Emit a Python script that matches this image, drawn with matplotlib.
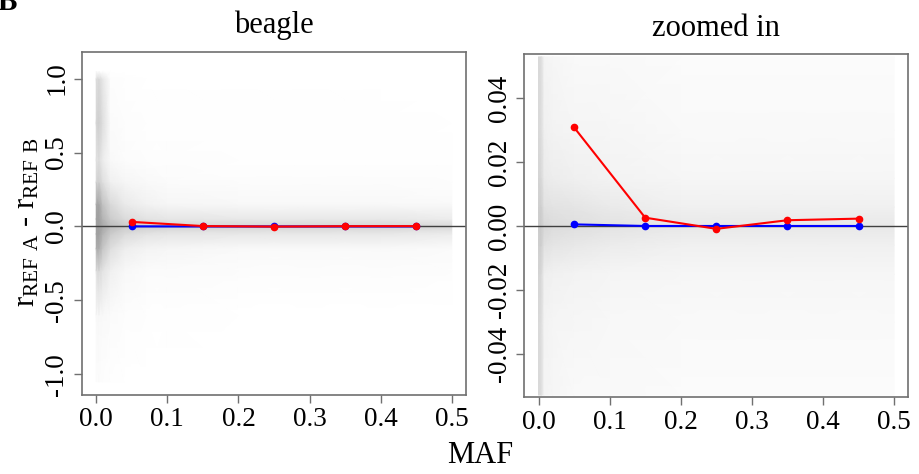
import matplotlib
matplotlib.use("Agg")
import matplotlib.pyplot as plt
import numpy as np
from matplotlib.colors import LinearSegmentedColormap

# dados: diferença média por classe de MAF
maf_bins = [0.05, 0.15, 0.25, 0.35, 0.45]
red_diff = [0.0309, 0.0026, -0.0009, 0.0018, 0.0023]
blue_diff = [0.0005, 0.0, 0.0, 0.0, 0.0]

# densidade da nuvem de pontos, painel "beagle"
left_x = [0.0, 0.004, 0.009, 0.02, 0.04, 0.07, 0.1, 0.2, 0.3, 0.4, 0.5]
left_y = [-1.05, -0.6, -0.3, -0.15, -0.05, 0.0, 0.05, 0.15, 0.3, 0.45, 0.7, 1.0, 1.05]
left_dens = [  # uma coluna por valor de left_x
    [0.03, 0.08, 0.35, 0.85, 1.00, 1.00, 1.00, 0.90, 0.45, 0.30, 0.45, 0.35, 0.0],
    [0.03, 0.08, 0.40, 0.85, 1.00, 1.00, 1.00, 0.95, 0.50, 0.35, 0.50, 0.40, 0.0],
    [0.02, 0.06, 0.30, 0.60, 0.80, 0.90, 0.80, 0.65, 0.35, 0.20, 0.35, 0.25, 0.0],
    [0.01, 0.04, 0.16, 0.35, 0.55, 0.70, 0.55, 0.40, 0.16, 0.06, 0.05, 0.02, 0.0],
    [0.00, 0.02, 0.08, 0.18, 0.38, 0.55, 0.38, 0.22, 0.09, 0.03, 0.02, 0.01, 0.0],
    [0.00, 0.01, 0.05, 0.12, 0.30, 0.50, 0.30, 0.14, 0.06, 0.02, 0.01, 0.005, 0.0],
    [0.00, 0.01, 0.04, 0.09, 0.26, 0.46, 0.26, 0.10, 0.04, 0.02, 0.01, 0.005, 0.0],
    [0.00, 0.005, 0.03, 0.07, 0.24, 0.44, 0.24, 0.08, 0.03, 0.015, 0.008, 0.004, 0.0],
    [0.00, 0.005, 0.03, 0.07, 0.24, 0.44, 0.24, 0.08, 0.03, 0.015, 0.008, 0.004, 0.0],
    [0.00, 0.005, 0.03, 0.07, 0.24, 0.44, 0.24, 0.08, 0.03, 0.015, 0.008, 0.004, 0.0],
    [0.00, 0.005, 0.02, 0.05, 0.20, 0.40, 0.20, 0.06, 0.02, 0.01, 0.005, 0.0, 0.0],
]

# densidade da nuvem, painel "zoomed in"
right_x = [0.0, 0.004, 0.008, 0.02, 0.05, 0.1, 0.2, 0.3, 0.4, 0.5]
right_y = [-0.053, -0.03, -0.015, -0.006, 0.0, 0.006, 0.015, 0.03, 0.053]
right_dens = [
    [0.40, 0.40, 0.45, 0.50, 0.55, 0.50, 0.45, 0.40, 0.40],
    [0.35, 0.35, 0.40, 0.50, 0.55, 0.50, 0.40, 0.35, 0.35],
    [0.12, 0.13, 0.17, 0.32, 0.42, 0.32, 0.22, 0.16, 0.12],
    [0.09, 0.11, 0.15, 0.27, 0.37, 0.30, 0.19, 0.13, 0.09],
    [0.07, 0.09, 0.13, 0.24, 0.34, 0.27, 0.16, 0.11, 0.07],
    [0.06, 0.08, 0.11, 0.20, 0.30, 0.22, 0.13, 0.09, 0.06],
    [0.05, 0.06, 0.09, 0.16, 0.24, 0.16, 0.09, 0.06, 0.05],
    [0.05, 0.06, 0.09, 0.16, 0.24, 0.16, 0.09, 0.06, 0.05],
    [0.05, 0.06, 0.09, 0.16, 0.24, 0.16, 0.09, 0.06, 0.05],
    [0.05, 0.06, 0.09, 0.16, 0.24, 0.16, 0.09, 0.06, 0.05],
]

x_ticks = [0.0, 0.1, 0.2, 0.3, 0.4, 0.5]
left_yticks = [-1.0, -0.5, 0.0, 0.5, 1.0]
right_yticks = [-0.04, -0.02, 0.0, 0.02, 0.04]

plt.rcParams['font.family'] = ['Liberation Serif', 'DejaVu Serif']
plt.rcParams['mathtext.fontset'] = 'custom'
plt.rcParams['mathtext.rm'] = 'Liberation Serif'
plt.rcParams['axes.unicode_minus'] = False

cloud = LinearSegmentedColormap.from_list('cloud', ['white', '#a0a0a0'])
frame = '#707070'

fig = plt.figure(figsize=(9.2, 4.74), dpi=100)
axL = fig.add_axes([82/920, 1-395/474, 384/920, 343/474])
axR = fig.add_axes([524.3/920, 1-397.3/474, 384/920, 343.6/474])

def panel(ax, gx, gy, dens, ylim, yticks, fmt):
    X, Y = np.meshgrid(gx, gy)
    Z = np.array(dens).T
    ax.pcolormesh(X, Y, Z, shading='gouraud', cmap=cloud, vmin=0, vmax=1,
                  rasterized=True, zorder=1)
    ax.axhline(0, color='#404040', lw=1, zorder=2)
    ax.plot(maf_bins, blue_diff, '-o', color='blue', lw=1.5, ms=4.5, zorder=3)
    ax.plot(maf_bins, red_diff, '-o', color='red', lw=1.5, ms=4.5, zorder=4)
    ax.set_xlim(-0.02, 0.52)
    ax.set_ylim(*ylim)
    ax.set_xticks(x_ticks)
    ax.set_xticklabels(['%.1f' % v for v in x_ticks])
    ax.set_yticks(yticks)
    ax.set_yticklabels([fmt % v for v in yticks], rotation=90, va='center')
    for s in ax.spines.values():
        s.set_color(frame)
        s.set_linewidth(1.2)
    ax.tick_params(colors=frame, labelcolor='black', labelsize=19.5,
                   length=6, width=1, pad=3)

panel(axL, left_x, left_y, left_dens, (-1.14, 1.18), left_yticks, '%.1f')
panel(axR, right_x, right_y, right_dens, (-0.0537, 0.054), right_yticks, '%.2f')

fig.text(274/920, 1-33/474, 'beagle', ha='center', va='baseline', fontsize=22)
fig.text(716/920, 1-36/474, 'zoomed in', ha='center', va='baseline', fontsize=22)
fig.text(480/920, 1-463/474, 'MAF', ha='center', va='baseline', fontsize=22)
fig.text(27/920, 1-222/474, r'$\mathrm{r_{REF\ A}}$ - $\mathrm{r_{REF\ B}}$',
         rotation=90, ha='center', va='center', fontsize=22)
fig.text(-0.003, 1-10/474, 'B', ha='left', va='baseline', fontsize=21,
         fontweight='bold')

fig.savefig('out.png', dpi=100)
